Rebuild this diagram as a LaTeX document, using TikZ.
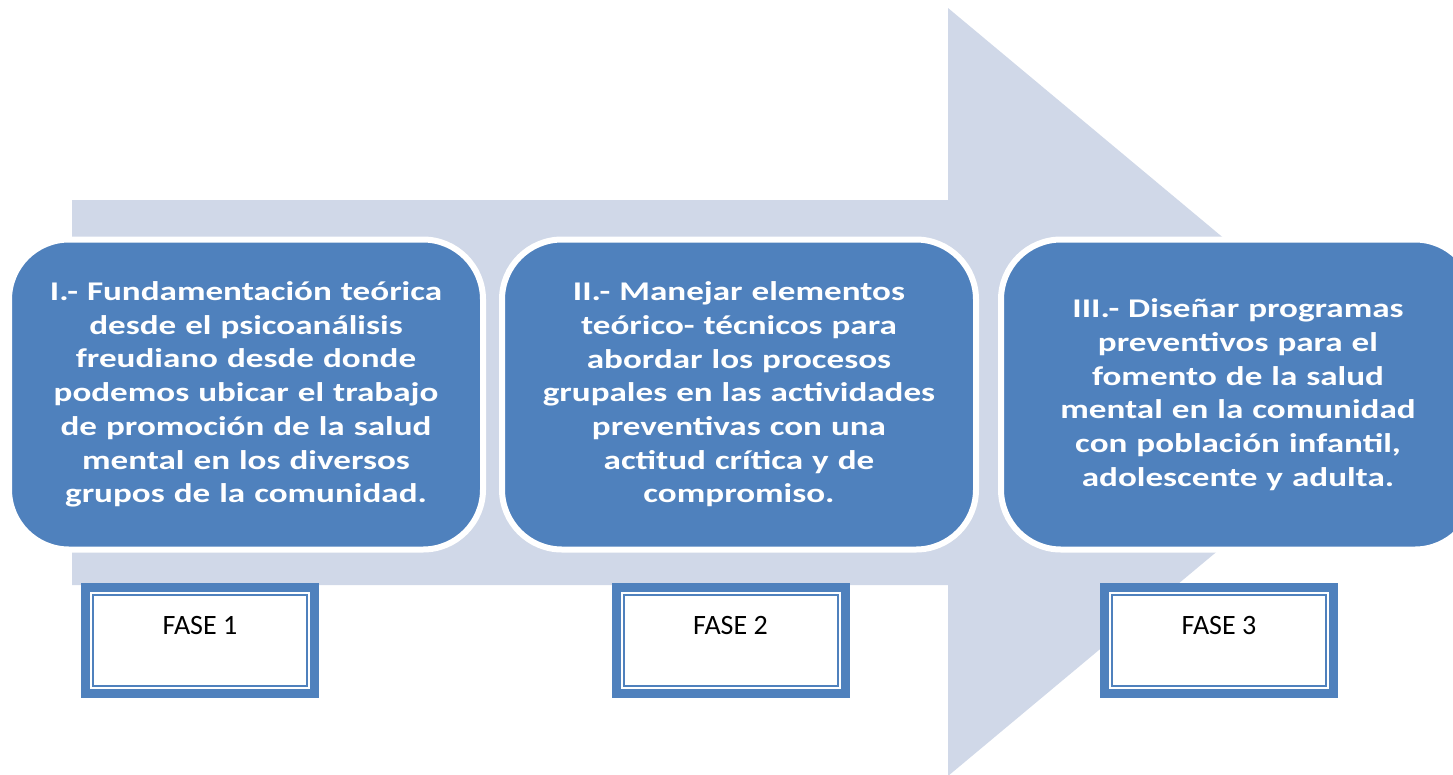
\documentclass[tikz,border=0pt]{standalone}
\usepackage{fontspec}
\setmainfont{Carlito}
\newfontfamily\metafont[FakeStretch=1.3]{Carlito}
\definecolor{arrowgray}{HTML}{D0D8E8}
\definecolor{boxblue}{HTML}{4F81BD}
\begin{document}
\begin{tikzpicture}[x=1pt,y=-1pt,
  fasebox/.style={draw=boxblue,line width=9pt,fill=white,outer sep=0pt,inner sep=0pt,
    minimum width=229pt,minimum height=106pt,text height=20pt,text depth=33pt,
    font=\fontsize{28}{30}\selectfont},
  faseline/.style={draw=boxblue,line width=2pt},
  metabox/.style={draw=white,line width=6pt,fill=boxblue,rounded corners=60pt,
    minimum width=474pt,minimum height=310pt,inner sep=0pt,text width=450pt,align=center,
    text=white,font=\metafont\bfseries\fontsize{27}{33.7}\selectfont}]
\clip (0,0) rectangle (1453,774);
% flecha de fondo
\fill [color=arrowgray] (72,200) -- (948,200) -- (948,8) -- (1408,392) -- (948,776) -- (948,585) -- (72,585) -- cycle;
% objetivos
\node [metabox] (meta1) at (246,394.5) {I.- Fundamentación teórica\\ desde el psicoanálisis\\ freudiano desde donde\\ podemos ubicar el trabajo\\ de promoción de la salud\\ mental en los diversos\\ grupos de la comunidad.};
\node [metabox] (meta2) at (739,394.5) {II.- Manejar elementos\\ teórico- técnicos para\\ abordar los procesos\\ grupales en las actividades\\ preventivas con una\\ actitud crítica y de\\ compromiso.};
\node [metabox] (meta3) at (1238,394.5) {III.- Diseñar programas\\ preventivos para el\\ fomento de la salud\\ mental en la comunidad\\ con población infantil,\\ adolescente y adulta.};
% fases
\node [fasebox] (fase1) at (200,640.5) {FASE 1};
\draw [faseline] ([shift={(7.5,7.5)}]fase1.north west) rectangle ([shift={(-7.5,-7.5)}]fase1.south east);
\node [fasebox] (fase2) at (730.5,640.5) {FASE 2};
\draw [faseline] ([shift={(7.5,7.5)}]fase2.north west) rectangle ([shift={(-7.5,-7.5)}]fase2.south east);
\node [fasebox] (fase3) at (1219,640.5) {FASE 3};
\draw [faseline] ([shift={(7.5,7.5)}]fase3.north west) rectangle ([shift={(-7.5,-7.5)}]fase3.south east);
\end{tikzpicture}
\end{document}
